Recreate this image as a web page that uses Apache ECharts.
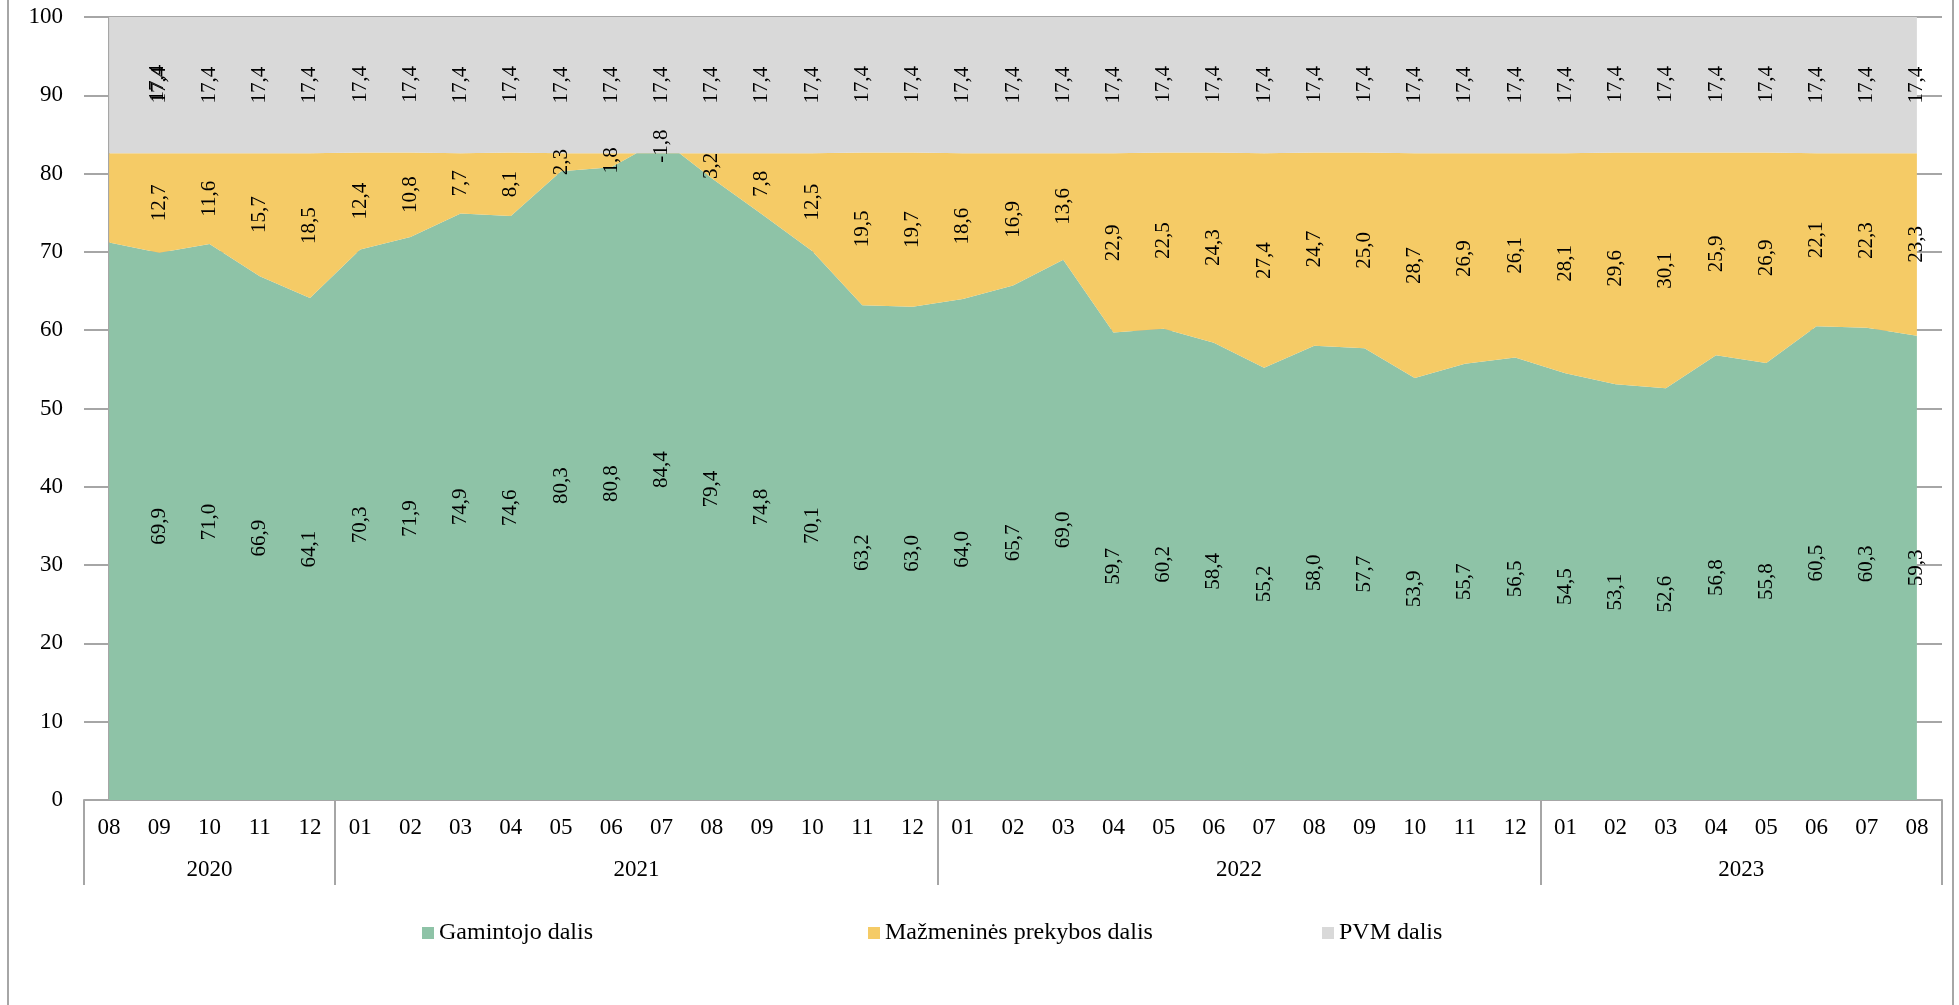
<!DOCTYPE html>
<html>
<head>
    <meta charset="utf-8">
    <title>Kainos struktūra</title>
    <script src="https://cdn.jsdelivr.net/npm/echarts@6/dist/echarts.min.js"></script>
    <style>
        html, body { margin: 0; padding: 0; background: #fff; }
        #chart { width: 1959px; height: 1005px; }
    </style>
</head>
<body>
<div id="chart"></div>
<script>
    // mėnesiai ir metai
    var months = ['08', '09', '10', '11', '12',
        '01', '02', '03', '04', '05', '06', '07', '08', '09', '10', '11', '12',
        '01', '02', '03', '04', '05', '06', '07', '08', '09', '10', '11', '12',
        '01', '02', '03', '04', '05', '06', '07', '08'];
    var years = ['2020', '2021', '2022', '2023'];
    var yearSpans = [5, 12, 12, 8];

    var producer = [71.2, 69.9, 71.0, 66.9, 64.1,
        70.3, 71.9, 74.9, 74.6, 80.3, 80.8, 84.4, 79.4, 74.8, 70.1, 63.2, 63.0,
        64.0, 65.7, 69.0, 59.7, 60.2, 58.4, 55.2, 58.0, 57.7, 53.9, 55.7, 56.5,
        54.5, 53.1, 52.6, 56.8, 55.8, 60.5, 60.3, 59.3];
    var retail = [11.4, 12.7, 11.6, 15.7, 18.5,
        12.4, 10.8, 7.7, 8.1, 2.3, 1.8, -1.8, 3.2, 7.8, 12.5, 19.5, 19.7,
        18.6, 16.9, 13.6, 22.9, 22.5, 24.3, 27.4, 24.7, 25.0, 28.7, 26.9, 26.1,
        28.1, 29.6, 30.1, 25.9, 26.9, 22.1, 22.3, 23.3];
    var vat = [17.4, 17.4, 17.4, 17.4, 17.4,
        17.4, 17.4, 17.4, 17.4, 17.4, 17.4, 17.4, 17.4, 17.4, 17.4, 17.4, 17.4,
        17.4, 17.4, 17.4, 17.4, 17.4, 17.4, 17.4, 17.4, 17.4, 17.4, 17.4, 17.4,
        17.4, 17.4, 17.4, 17.4, 17.4, 17.4, 17.4, 17.4];

    var names = ['Gamintojo dalis', 'Mažmeninės prekybos dalis', 'PVM dalis'];
    var colors = ['#8ec3a7', '#f5cb66', '#d9d9d9'];
    var serif = "'Liberation Serif', 'Times New Roman', serif";
    var gray = '#a6a6a6';

    // etikečių vietos - juostos viduryje
    var labelRows = [];
    for (var i = 0; i < months.length; i++) {
        var b1 = producer[i], b2 = producer[i] + retail[i];
        if (i === 0) {
            // pirmojo mėnesio PVM etiketė Excel'yje nustumta ant 09
            labelRows.push([1, b2 + vat[i] / 2, vat[i], -2]);
            continue;
        }
        labelRows.push([i, producer[i] / 2, producer[i], 0]);
        labelRows.push([i, b1 + retail[i] / 2, retail[i], 0]);
        labelRows.push([i, b2 + vat[i] / 2, vat[i], 0]);
    }

    // metų ribos ir centrai ant antros ašies
    var yearTicks = [-0.5], yearCenters = [], pos = -0.5;
    yearSpans.forEach(function (n) {
        yearCenters.push(pos + n / 2);
        pos += n;
        yearTicks.push(pos);
    });

    function fmt(v) {
        return v.toFixed(1).replace('.', ',');
    }

    var myChart = echarts.init(document.getElementById('chart'));

    var areaSeries = [producer, retail, vat].map(function (d, k) {
        return {
            name: names[k],
            type: 'line',
            stack: 'total',
            stackStrategy: 'all',
            data: d,
            symbol: 'none',
            lineStyle: { width: 0 },
            areaStyle: { color: colors[k], opacity: 1 },
            itemStyle: { color: colors[k] },
            silent: true
        };
    });

    var option = {
        animation: false,
        textStyle: { fontFamily: serif },
        grid: { left: 84, right: 17, top: 17, bottom: 205 },
        legend: names.map(function (n, k) {
            return {
                data: [n],
                left: [422, 868, 1322][k],
                top: 921,
                padding: 0,
                icon: 'rect',
                itemWidth: 12,
                itemHeight: 12,
                selectedMode: false,
                textStyle: { fontSize: 24, color: '#000', fontFamily: serif }
            };
        }),
        xAxis: [{
            type: 'category',
            data: months,
            boundaryGap: true,
            axisLine: { lineStyle: { color: gray, width: 2 } },
            axisTick: { show: false },
            axisLabel: { interval: 0, margin: 16, fontSize: 23, color: '#000', fontFamily: serif }
        }, {
            type: 'value',
            min: -0.5,
            max: months.length - 0.5,
            position: 'bottom',
            axisLine: { show: false },
            splitLine: { show: false },
            axisTick: {
                show: true,
                length: 85,
                customValues: yearTicks,
                lineStyle: { color: gray, width: 2 }
            },
            axisLabel: {
                margin: 58,
                fontSize: 23,
                color: '#000',
                fontFamily: serif,
                customValues: yearCenters,
                formatter: function (v) {
                    var idx = yearCenters.indexOf(v);
                    return idx >= 0 ? years[idx] : '';
                }
            }
        }],
        yAxis: {
            type: 'value',
            min: 0,
            max: 100,
            interval: 10,
            axisLine: { show: true, lineStyle: { color: gray, width: 2 } },
            axisTick: { show: false },
            splitLine: { lineStyle: { color: gray, width: 2 } },
            axisLabel: { margin: 21, fontSize: 23, color: '#000', fontFamily: serif }
        },
        graphic: [
            { type: 'line', shape: { x1: 8, y1: 0, x2: 8, y2: 1005 }, style: { stroke: gray, lineWidth: 2 } },
            { type: 'line', shape: { x1: 1953, y1: 0, x2: 1953, y2: 1005 }, style: { stroke: gray, lineWidth: 2 } }
        ],
        series: areaSeries.concat([{
            type: 'custom',
            data: labelRows,
            silent: true,
            z: 10,
            encode: { x: 0, y: 1 },
            renderItem: function (params, api) {
                var p = api.coord([api.value(0), api.value(1)]);
                return {
                    type: 'text',
                    x: p[0] + api.value(3),
                    y: p[1] + api.value(3),
                    rotation: Math.PI / 2,
                    style: {
                        text: fmt(api.value(2)),
                        align: 'center',
                        verticalAlign: 'middle',
                        fontSize: 21,
                        fontFamily: serif,
                        fill: '#000'
                    }
                };
            }
        }])
    };

    myChart.setOption(option);
</script>
</body>
</html>
